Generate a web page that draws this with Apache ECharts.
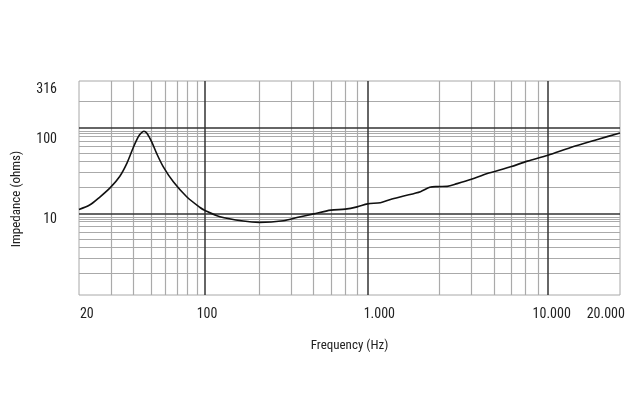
<!DOCTYPE html>
<html lang="en">
<head>
<meta charset="UTF-8">
<title>Impedance vs frequency</title>
<script src="https://cdn.jsdelivr.net/npm/echarts@6/dist/echarts.min.js"></script>
<style>
    body { margin: 0; background: #fff; }
    #main { width: 635px; height: 399px; }
</style>
</head>
<body>
<div id="main"></div>
<script>
// impedance curve
var freq = [20, 22.9, 26.1, 29.9, 33.7, 36.9, 40, 42.6, 44.1, 45.8, 47.6, 50.6, 53.9, 58.7, 66.7, 79.1, 93.8, 100,
    121, 163, 200, 272, 323, 400, 499, 599, 697, 797, 938, 1067, 1264, 1565, 1763, 1938, 2202, 2502, 2966,
    3673, 3999, 4946, 6124, 7975, 10660, 15000, 20000];
var ohms = [11.1, 12.5, 15.5, 20.1, 27.1, 38.5, 58.5, 77.8, 85.8, 90.6, 85.8, 68.0, 49.9, 34.8, 23.3, 15.6, 11.7, 10.8,
    9.13, 8.14, 7.86, 8.2, 8.94, 9.87, 10.9, 11.2, 11.9, 12.9, 13.3, 14.5, 15.9, 17.9, 20.1, 20.5, 20.6, 22.2, 24.8,
    29.2, 30.5, 34.8, 40.6, 47.6, 58.5, 72.5, 86.5];

// tick labels (values = where the labels sit on the picture)
var xLabelValues = [22.1, 102.6, 926, 8360, 16680];
var xLabelText = ['20', '100', '1.000', '10.000', '20.000'];
var yLabelValues = [273.5, 73.1, 8.47];
var yLabelText = ['316', '100', '10'];

// grid lines
var xMajorLines = [100, 800, 8000];
var xMinorLines = [30, 40, 50, 60, 70, 80, 90, 200, 300, 400, 500, 600, 700, 2000, 3000, 4000, 5000, 6000, 7000];
var yMajorLines = [10, 100];
var yMinorLines = [2, 3, 4, 5, 6, 7, 8, 8.5, 9, 20, 30, 40, 50, 60, 70, 80, 85, 90, 200];

var font = "'Roboto Condensed', 'DejaVu Sans Condensed', sans-serif";

// pick label text for a tick value (nearest on a log scale)
function pickLabel(values, texts, v) {
    var best = 0, bestD = Infinity;
    for (var i = 0; i < values.length; i++) {
        var d = Math.abs(Math.log(values[i]) - Math.log(v));
        if (d < bestD) { bestD = d; best = i; }
    }
    return texts[best];
}

var chart = echarts.init(document.getElementById('main'));

var option = {
    animation: false,
    grid: {
        left: 79, right: 15, top: 81, bottom: 104,
        show: true, borderColor: '#a8a8a8', borderWidth: 1
    },
    xAxis: [
        {
            type: 'log', logBase: 10, min: 20, max: 20000, position: 'bottom', z: 1,
            axisLine: { show: false },
            axisTick: { show: false, customValues: xMajorLines },
            axisLabel: {
                customValues: xLabelValues,
                formatter: function (v) { return pickLabel(xLabelValues, xLabelText, v); },
                margin: 12, color: '#222', fontSize: 14, fontFamily: font
            },
            splitLine: { show: true, lineStyle: { color: '#333', width: 1.5 } },
            name: 'Frequency (Hz)', nameLocation: 'middle', nameGap: 44,
            nameTextStyle: { color: '#222', fontSize: 13, fontFamily: font }
        },
        {
            type: 'log', logBase: 10, min: 20, max: 20000, position: 'bottom', z: 0,
            axisLine: { show: false },
            axisTick: { show: false, customValues: xMinorLines },
            axisLabel: { show: false },
            splitLine: { show: true, lineStyle: { color: '#aaa', width: 1.2 } }
        }
    ],
    yAxis: [
        {
            type: 'log', logBase: 10, min: 1.12, max: 348, position: 'left', z: 1,
            axisLine: { show: false },
            axisTick: { show: false, customValues: yMajorLines },
            axisLabel: {
                customValues: yLabelValues,
                formatter: function (v) { return pickLabel(yLabelValues, yLabelText, v); },
                margin: 22, color: '#222', fontSize: 14, fontFamily: font
            },
            splitLine: { show: true, lineStyle: { color: '#333', width: 1.5 } },
            name: 'Impedance (ohms)', nameLocation: 'middle', nameGap: 56,
            nameTextStyle: { color: '#222', fontSize: 13, fontFamily: font, padding: [0, 22, 0, 0] }
        },
        {
            type: 'log', logBase: 10, min: 1.12, max: 348, position: 'left', z: 0,
            axisLine: { show: false },
            axisTick: { show: false, customValues: yMinorLines },
            axisLabel: { show: false },
            splitLine: { show: true, lineStyle: { color: '#aaa', width: 1.2 } }
        }
    ],
    series: [
        {
            type: 'line',
            xAxisIndex: 0,
            yAxisIndex: 0,
            z: 3,
            showSymbol: false,
            smooth: 0.3,
            lineStyle: { color: '#111', width: 1.6 },
            data: freq.map(function (f, i) { return [f, ohms[i]]; })
        }
    ]
};

chart.setOption(option);
</script>
</body>
</html>
